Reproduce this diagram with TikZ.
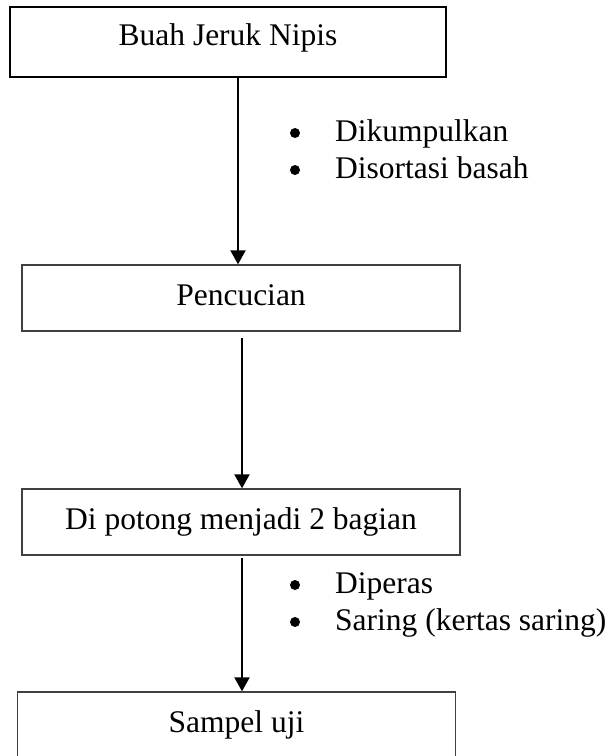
\documentclass[tikz,border=0pt]{standalone}
\usepackage{fontspec}
\setmainfont{Liberation Serif}
\usetikzlibrary{arrows.meta}
\begin{document}
\begin{tikzpicture}[x=1pt,y=-1pt,
  txt/.style={font=\fontsize{31.5}{36}\selectfont},
  box/.style={txt, draw=black!75, line width=1.3pt, rectangle, inner sep=0pt,
    minimum width=438pt, minimum height=66pt, text height=22pt, text depth=8pt},
  arr/.style={line width=2pt, -{Triangle[width=15pt,length=14pt]}},
  lbl/.style={txt, anchor=base west, inner sep=0pt},
  bul/.style={circle, fill=black, inner sep=0pt, minimum size=10pt}]
\useasboundingbox (0,0) rectangle (613,756);
\node[box, draw=black, line width=1.5pt, minimum width=436pt, minimum height=70pt,
  text depth=16pt] (b1) at (228,42) {Buah Jeruk Nipis};
\node[box] (b2) at (241,298) {Pencucian};
\node[box] (b3) at (241,522) {Di potong menjadi 2 bagian};
\node[box] (b4) at (236.5,725) {Sampel uji};
\draw[arr] ([xshift=10pt]b1.south) -- ([xshift=-3pt]b2.north);
\draw[arr] ([xshift=1pt,yshift=-6pt]b2.south) -- ([xshift=1pt]b3.north);
\draw[arr] ([xshift=1pt,yshift=-2pt]b3.south) -- ([xshift=5.5pt]b4.north);
\node[bul] (p1) at (295,133) {};
\node[lbl] (t1) at (335,141) {Dikumpulkan};
\node[bul] (p2) at (295,170) {};
\node[lbl] (t2) at (335,178) {Disortasi basah};
\node[bul] (p3) at (295,585) {};
\node[lbl] (t3) at (335,593) {Diperas};
\node[bul] (p4) at (295,622) {};
\node[lbl] (t4) at (335,630) {Saring (kertas saring)};
\end{tikzpicture}
\end{document}
